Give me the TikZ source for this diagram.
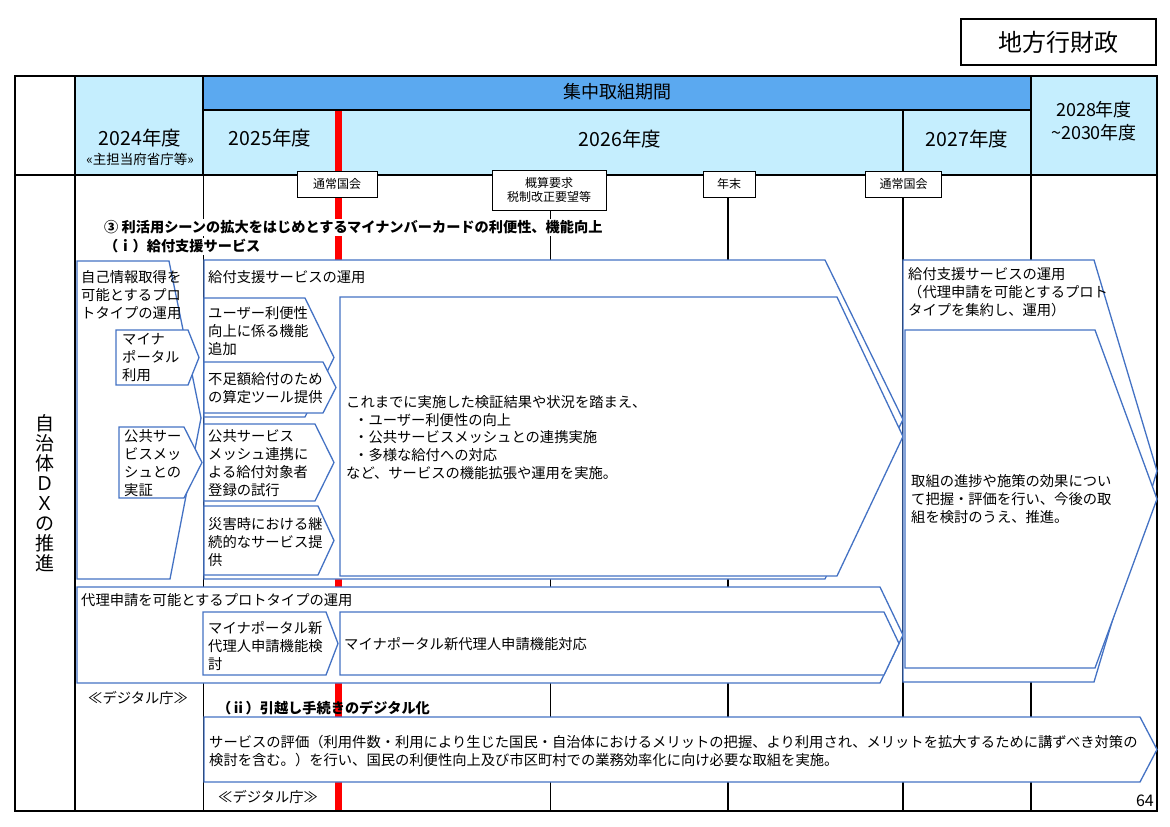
\documentclass[tikz,border=0pt]{standalone}
\usepackage{fontspec}
\setmainfont{Noto Sans CJK JP}
\definecolor{bandblue}{RGB}{91,169,240}
\definecolor{yearblue}{RGB}{197,238,254}
\definecolor{boxblue}{RGB}{68,114,196}
\begin{document}
\begin{tikzpicture}[x=1pt,y=-1pt,
    chev/.style={draw=boxblue,fill=white,line width=1.3pt},
    txt/.style={anchor=west,align=left,inner sep=0pt,font=\fontsize{14.3}{18}\selectfont},
    hd/.style={align=center,inner sep=0pt,font=\fontsize{18}{23}\selectfont},
    yr/.style={inner sep=0pt,font=\fontsize{19.5}{23}\selectfont},
    ms/.style={draw,fill=white,line width=0.8pt,align=center,inner sep=0pt,font=\fontsize{12}{14.5}\selectfont}]
            \fill[white] (0,0) rectangle (1170,827);
            \useasboundingbox (0,0) rectangle (1170,827);
            \fill[yearblue] (75,76) rectangle (203,175);
            \fill[bandblue] (203,76) rectangle (1031,110);
            \fill[yearblue] (203,110) rectangle (1031,175);
            \fill[yearblue] (1031,76) rectangle (1157,175);
            \draw[red,line width=7pt] (338,110) -- (338,811);
            \draw[line width=1pt] (203,175) -- (203,811);
            \draw[line width=1pt] (550,175) -- (550,811);
            \draw[line width=2pt] (728,175) -- (728,811);
            \draw[line width=1.2pt] (903,110) -- (903,811);
            \draw[line width=1.3pt] (15,76) rectangle (1157,811);
            \draw[line width=1.3pt] (203,76) -- (203,175);
            \draw[line width=2pt] (75,76) -- (75,811);
            \draw[line width=2pt] (1031,76) -- (1031,811);
            \draw[line width=2pt] (203,110) -- (1031,110);
            \draw[line width=2pt] (15,175) -- (1157,175);
            \node[draw,line width=2pt,minimum width=195pt,minimum height=46pt,inner sep=0pt,font=\fontsize{24}{28}\selectfont] (title) at (1058.5,42) {地方行財政};
            \node[hd] (focus) at (617,92) {集中取組期間};
            \node[yr] (fy24) at (140,138) {2024年度};
            \node[inner sep=0pt,font=\fontsize{13.5}{14}\selectfont] (lead) at (140,159) {«主担当府省庁等»};
            \node[yr] (fy25) at (270,138) {2025年度};
            \node[yr] (fy26) at (620,139) {2026年度};
            \node[yr] (fy27) at (967,139) {2027年度};
            \node[hd] (fy28) at (1094,121.5) {2028年度\\\textasciitilde2030年度};
            \node[ms,minimum width=80pt,minimum height=26pt] (diet1) at (337,184) {通常国会};
            \node[ms,minimum width=114pt,minimum height=40pt] (budget) at (549,190) {概算要求\\税制改正要望等};
            \node[ms,minimum width=52pt,minimum height=26pt] (yearend) at (729,184) {年末};
            \node[ms,minimum width=76pt,minimum height=26pt] (diet2) at (903.5,184) {通常国会};
            \node[inner sep=0pt,align=center,font=\fontsize{19}{20}\selectfont] (dx) at (45,493) {自\\治\\体\\Ｄ\\Ｘ\\の\\推\\進};
            \node[txt,fill=white,inner sep=2pt,font=\fontsize{14.2}{18}\selectfont\bfseries] (sec3) at (102,227.5) {③ 利活用シーンの拡大をはじめとするマイナンバーカードの利便性、機能向上};
            \node[txt,fill=white,inner sep=2pt,font=\fontsize{14.2}{18}\selectfont\bfseries] (sec3a) at (102,246.5) {（ｉ）給付支援サービス};
            \draw[chev] (77,261) -- (169,261) -- (201,418) -- (170,579) -- (77,579) -- cycle;
            \draw[chev] (116,330) -- (188,330) -- (199,357.5) -- (188,385) -- (116,385) -- cycle;
            \draw[chev] (119,427) -- (184,427) -- (202,462.5) -- (184,498) -- (119,498) -- cycle;
            \draw[chev] (204,260) -- (825,260) -- (903,419.5) -- (825,579) -- (204,579) -- cycle;
            \draw[chev] (340,297) -- (837,297) -- (903,436.5) -- (837,576) -- (340,576) -- cycle;
            \draw[chev] (204,298) -- (305,298) -- (334,357.5) -- (305,417) -- (204,417) -- cycle;
            \draw[chev] (204,362) -- (323,362) -- (336,387.5) -- (323,413) -- (204,413) -- cycle;
            \draw[chev] (204,424) -- (315,424) -- (334,462.5) -- (315,501) -- (204,501) -- cycle;
            \draw[chev] (204,506) -- (318,506) -- (334,540.5) -- (318,575) -- (204,575) -- cycle;
            \draw[chev] (77,587) -- (880,587) -- (903,635) -- (880,683) -- (77,683) -- cycle;
            \draw[chev] (203,612) -- (326,612) -- (338,643.5) -- (326,675) -- (203,675) -- cycle;
            \draw[chev] (340,612) -- (884,612) -- (899,643.5) -- (884,675) -- (340,675) -- cycle;
            \draw[chev] (903,260) -- (1094,260) -- (1157,471) -- (1094,682) -- (903,682) -- cycle;
            \draw[chev] (905,330) -- (1095,330) -- (1157,499) -- (1095,668) -- (905,668) -- cycle;
            \draw[chev] (204,717) -- (1140,717) -- (1157,749.5) -- (1140,782) -- (204,782) -- cycle;
            \node[txt] (selfinfo) at (81,295) {自己情報取得を\\可能とするプロ\\トタイプの運用};
            \node[txt] (mptxt) at (122,358) {マイナ\\ポータル\\利用};
            \node[txt] (meshpoc) at (124,463) {公共サー\\ビスメッ\\シュとの\\実証};
            \node[txt] (kyufu) at (208,277) {給付支援サービスの運用};
            \node[txt] (userfn) at (208,331.5) {ユーザー利便性\\向上に係る機能\\追加};
            \node[txt] (shortfall) at (208,388.5) {不足額給付のため\\の算定ツール提供};
            \node[txt] (meshreg) at (208,463.5) {公共サービス\\メッシュ連携に\\よる給付対象者\\登録の試行};
            \node[txt] (disaster) at (208,542) {災害時における継\\続的なサービス提\\供};
            \node[txt,font=\fontsize{14.3}{17.6}\selectfont] (review) at (346,437.5) {これまでに実施した検証結果や状況を踏まえ、\\\hspace*{8pt}・ユーザー利便性の向上\\\hspace*{8pt}・公共サービスメッシュとの連携実施\\\hspace*{8pt}・多様な給付への対応\\など、サービスの機能拡張や運用を実施。};
            \node[txt] (proxyop) at (81,600) {代理申請を可能とするプロトタイプの運用};
            \node[txt] (proxystudy) at (208,646) {マイナポータル新\\代理人申請機能検\\討};
            \node[txt] (proxyimpl) at (344,644) {マイナポータル新代理人申請機能対応};
            \node[txt] (laterop) at (908,292.5) {給付支援サービスの運用\\（代理申請を可能とするプロト\\タイプを集約し、運用）};
            \node[txt] (laterplan) at (911,499.5) {取組の進捗や施策の効果につい\\て把握・評価を行い、今後の取\\組を検討のうえ、推進。};
            \node[txt] (agency1) at (88,698) {≪デジタル庁≫};
            \node[txt,font=\fontsize{14.2}{18}\selectfont\bfseries] (sec3b) at (217,708) {（ⅱ）引越し手続きのデジタル化};
            \node[txt] (moveeval) at (209,751.5) {サービスの評価（利用件数・利用により生じた国民・自治体におけるメリットの把握、より利用され、メリットを拡大するために講ずべき対策の\\検討を含む。）を行い、国民の利便性向上及び市区町村での業務効率化に向け必要な取組を実施。};
            \node[txt] (agency2) at (218,797) {≪デジタル庁≫};
            \node[anchor=east,inner sep=0pt,font=\fontsize{16}{18}\selectfont] (pageno) at (1154,801) {64};
        \end{tikzpicture}
\end{document}
